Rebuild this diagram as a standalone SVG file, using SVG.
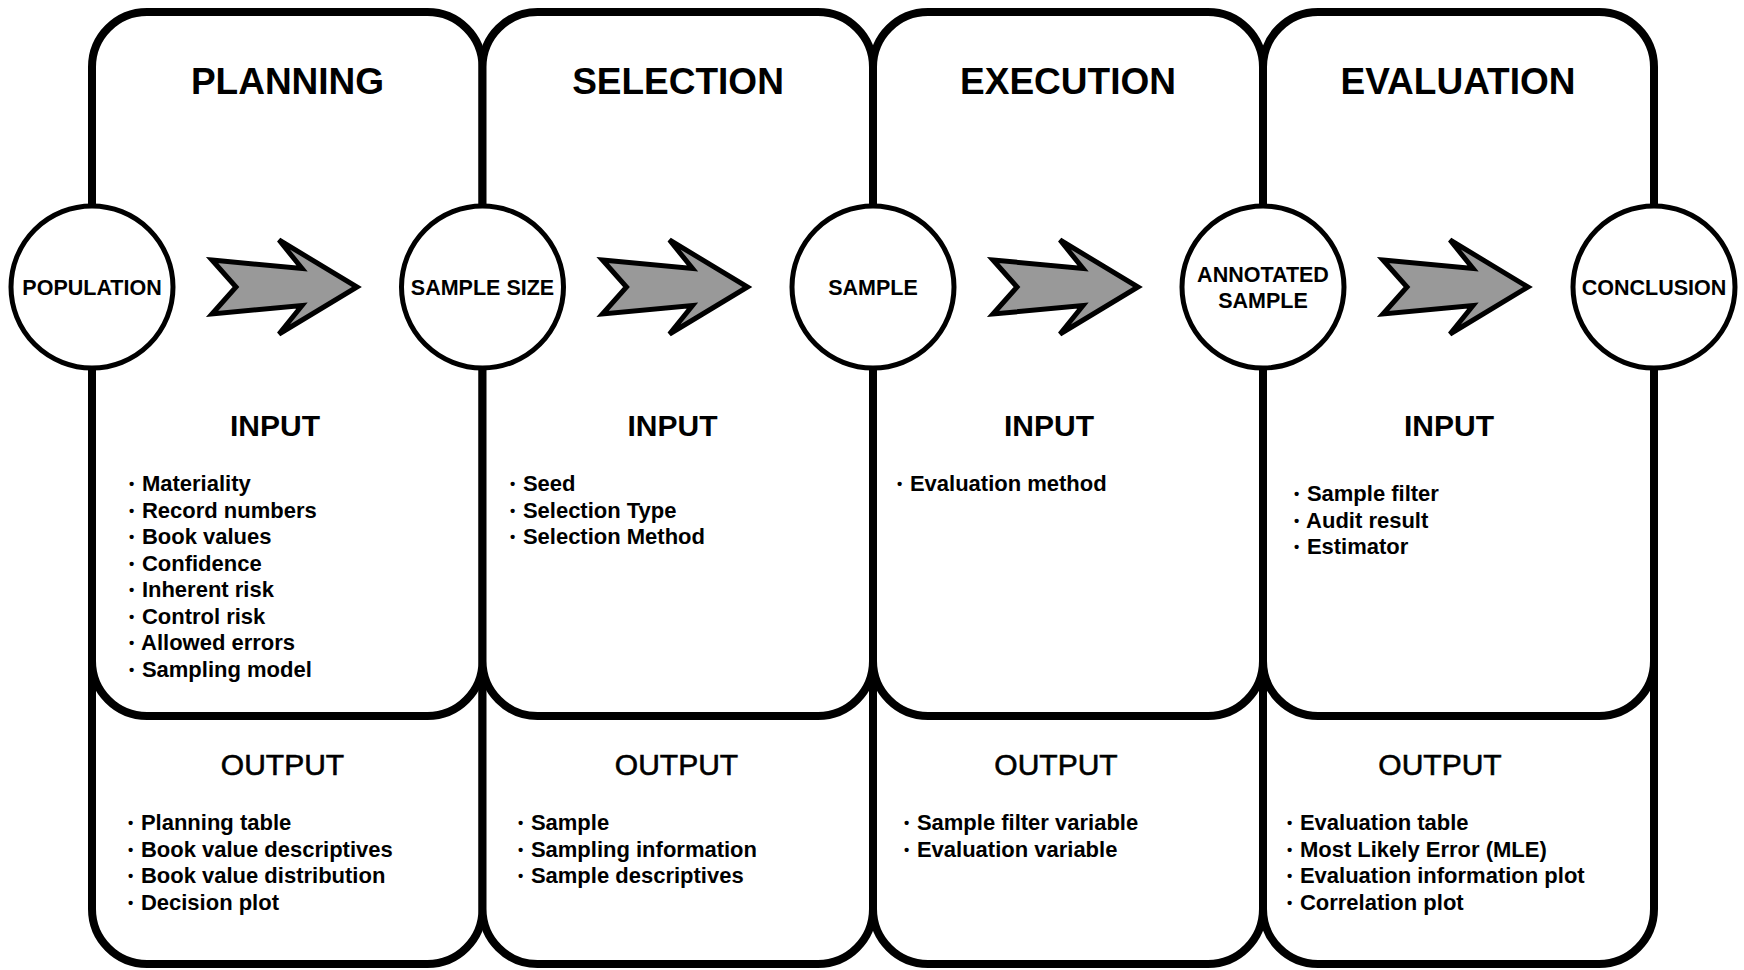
<svg xmlns="http://www.w3.org/2000/svg" width="1744" height="970" viewBox="0 0 1744 970">
<style>
.box{fill:#fff;stroke:#000;stroke-width:8}
.circ{fill:#fff;stroke:#000;stroke-width:5}
.arrow{fill:#999;stroke:#000;stroke-width:5;stroke-linejoin:miter}
.title{font-family:"Liberation Sans",Arial,sans-serif;font-weight:bold;font-size:37px;text-anchor:middle;fill:#000}
.clabel{font-family:"Liberation Sans",Arial,sans-serif;font-weight:bold;font-size:21.5px;text-anchor:middle;fill:#000}
.inh{font-family:"Liberation Sans",Arial,sans-serif;font-weight:bold;font-size:30px;text-anchor:middle;fill:#000}
.outh{font-family:"Liberation Sans",Arial,sans-serif;font-weight:normal;font-size:30px;text-anchor:middle;fill:#000;stroke:#000;stroke-width:0.6}
.item{font-family:"Liberation Sans",Arial,sans-serif;font-weight:bold;font-size:22px;fill:#000}
.b{font-size:15px;font-weight:bold}
</style>
<defs>
<polygon id="arr" class="arrow" points="-145,-27 -55,-18.5 -78,-47 0,0 -78,47 -55,18.5 -145,27 -121,0"/>
</defs>
<rect width="1744" height="970" fill="#fff"/>

<!-- output boxes -->
<g id="output-planning">
<rect class="box" x="92" y="560" width="390.5" height="404" rx="55"/>
<text class="outh" x="282.5" y="775">OUTPUT</text>
<text class="item" x="128" y="830"><tspan class="b" dy="-2">•</tspan><tspan dy="2" dx="1.5"> Planning table</tspan></text>
<text class="item" x="128" y="856.5"><tspan class="b" dy="-2">•</tspan><tspan dy="2" dx="1.5"> Book value descriptives</tspan></text>
<text class="item" x="128" y="883"><tspan class="b" dy="-2">•</tspan><tspan dy="2" dx="1.5"> Book value distribution</tspan></text>
<text class="item" x="128" y="909.5"><tspan class="b" dy="-2">•</tspan><tspan dy="2" dx="1.5"> Decision plot</tspan></text>
</g>
<g id="output-selection">
<rect class="box" x="482.5" y="560" width="390.5" height="404" rx="55"/>
<text class="outh" x="676.5" y="775">OUTPUT</text>
<text class="item" x="518" y="830"><tspan class="b" dy="-2">•</tspan><tspan dy="2" dx="1.5"> Sample</tspan></text>
<text class="item" x="518" y="856.5"><tspan class="b" dy="-2">•</tspan><tspan dy="2" dx="1.5"> Sampling information</tspan></text>
<text class="item" x="518" y="883"><tspan class="b" dy="-2">•</tspan><tspan dy="2" dx="1.5"> Sample descriptives</tspan></text>
</g>
<g id="output-execution">
<rect class="box" x="873" y="560" width="390" height="404" rx="55"/>
<text class="outh" x="1056" y="775">OUTPUT</text>
<text class="item" x="904" y="830"><tspan class="b" dy="-2">•</tspan><tspan dy="2" dx="1.5"> Sample filter variable</tspan></text>
<text class="item" x="904" y="856.5"><tspan class="b" dy="-2">•</tspan><tspan dy="2" dx="1.5"> Evaluation variable</tspan></text>
</g>
<g id="output-evaluation">
<rect class="box" x="1263" y="560" width="391" height="404" rx="55"/>
<text class="outh" x="1440" y="775">OUTPUT</text>
<text class="item" x="1287" y="830"><tspan class="b" dy="-2">•</tspan><tspan dy="2" dx="1.5"> Evaluation table</tspan></text>
<text class="item" x="1287" y="856.5"><tspan class="b" dy="-2">•</tspan><tspan dy="2" dx="1.5"> Most Likely Error (MLE)</tspan></text>
<text class="item" x="1287" y="883"><tspan class="b" dy="-2">•</tspan><tspan dy="2" dx="1.5"> Evaluation information plot</tspan></text>
<text class="item" x="1287" y="909.5"><tspan class="b" dy="-2">•</tspan><tspan dy="2" dx="1.5"> Correlation plot</tspan></text>
</g>

<!-- stage boxes -->
<g id="stage-planning">
<rect class="box" x="92" y="12" width="390.5" height="704" rx="55"/>
<text class="title" x="287.5" y="94">PLANNING</text>
<text class="inh" x="275" y="436">INPUT</text>
<text class="item" x="129" y="491"><tspan class="b" dy="-2">•</tspan><tspan dy="2" dx="1.5"> Materiality</tspan></text>
<text class="item" x="129" y="517.5"><tspan class="b" dy="-2">•</tspan><tspan dy="2" dx="1.5"> Record numbers</tspan></text>
<text class="item" x="129" y="544"><tspan class="b" dy="-2">•</tspan><tspan dy="2" dx="1.5"> Book values</tspan></text>
<text class="item" x="129" y="570.5"><tspan class="b" dy="-2">•</tspan><tspan dy="2" dx="1.5"> Confidence</tspan></text>
<text class="item" x="129" y="597"><tspan class="b" dy="-2">•</tspan><tspan dy="2" dx="1.5"> Inherent risk</tspan></text>
<text class="item" x="129" y="623.5"><tspan class="b" dy="-2">•</tspan><tspan dy="2" dx="1.5"> Control risk</tspan></text>
<text class="item" x="129" y="650"><tspan class="b" dy="-2">•</tspan><tspan dy="2" dx="1.5"> Allowed errors</tspan></text>
<text class="item" x="129" y="676.5"><tspan class="b" dy="-2">•</tspan><tspan dy="2" dx="1.5"> Sampling model</tspan></text>
</g>
<g id="stage-selection">
<rect class="box" x="482.5" y="12" width="390.5" height="704" rx="55"/>
<text class="title" x="678" y="94">SELECTION</text>
<text class="inh" x="672.5" y="436">INPUT</text>
<text class="item" x="510" y="491"><tspan class="b" dy="-2">•</tspan><tspan dy="2" dx="1.5"> Seed</tspan></text>
<text class="item" x="510" y="517.5"><tspan class="b" dy="-2">•</tspan><tspan dy="2" dx="1.5"> Selection Type</tspan></text>
<text class="item" x="510" y="544"><tspan class="b" dy="-2">•</tspan><tspan dy="2" dx="1.5"> Selection Method</tspan></text>
</g>
<g id="stage-execution">
<rect class="box" x="873" y="12" width="390" height="704" rx="55"/>
<text class="title" x="1068" y="94">EXECUTION</text>
<text class="inh" x="1049" y="436">INPUT</text>
<text class="item" x="897" y="491"><tspan class="b" dy="-2">•</tspan><tspan dy="2" dx="1.5"> Evaluation method</tspan></text>
</g>
<g id="stage-evaluation">
<rect class="box" x="1263" y="12" width="391" height="704" rx="55"/>
<text class="title" x="1458" y="94">EVALUATION</text>
<text class="inh" x="1449" y="436">INPUT</text>
<text class="item" x="1294" y="501"><tspan class="b" dy="-2">•</tspan><tspan dy="2" dx="1.5"> Sample filter</tspan></text>
<text class="item" x="1294" y="527.5"><tspan class="b" dy="-2">•</tspan><tspan dy="2" dx="1.5"> Audit result</tspan></text>
<text class="item" x="1294" y="554"><tspan class="b" dy="-2">•</tspan><tspan dy="2" dx="1.5"> Estimator</tspan></text>
</g>

<!-- connectors -->
<g id="connectors">
<use href="#arr" x="357" y="287"/>
<use href="#arr" x="747.5" y="287"/>
<use href="#arr" x="1138" y="287"/>
<use href="#arr" x="1528" y="287"/>
</g>

<!-- circles -->
<g id="population">
<circle class="circ" cx="92" cy="287" r="81"/>
<text class="clabel" x="92" y="295">POPULATION</text>
</g>
<g id="sample-size">
<circle class="circ" cx="482.5" cy="287" r="81"/>
<text class="clabel" x="482.5" y="295">SAMPLE SIZE</text>
</g>
<g id="sample">
<circle class="circ" cx="873" cy="287" r="81"/>
<text class="clabel" x="873" y="295">SAMPLE</text>
</g>
<g id="annotated-sample">
<circle class="circ" cx="1263" cy="287" r="81"/>
<text class="clabel" x="1263" y="281.5">ANNOTATED</text>
<text class="clabel" x="1263" y="308">SAMPLE</text>
</g>
<g id="conclusion">
<circle class="circ" cx="1654" cy="287" r="81"/>
<text class="clabel" x="1654" y="295">CONCLUSION</text>
</g>
</svg>
